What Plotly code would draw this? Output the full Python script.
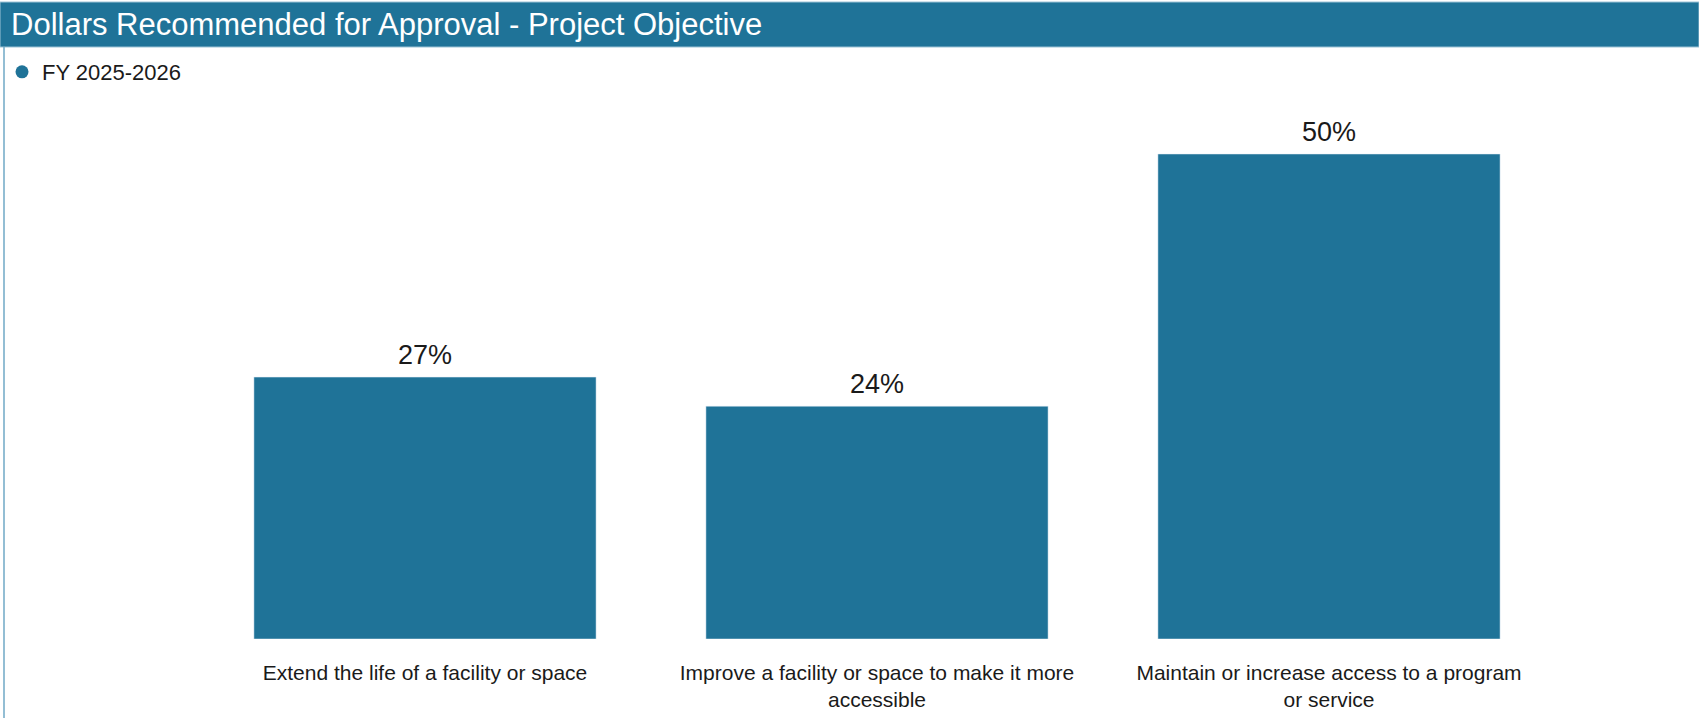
import plotly.graph_objects as go

categories = [
    "Extend the life of a facility or space",
    "Improve a facility or space to make it more<br>accessible",
    "Maintain or increase access to a program<br>or service",
]
values = [27, 24, 50]
series_name = "FY 2025-2026"
title_text = "Dollars Recommended for Approval - Project Objective"

W, H = 1699, 718
L, R, T, B = 199, 144, 100, 79
pw, ph = W - L - R, H - T - B
BLUE = "#1F7398"
TXT = "#1a1a1a"
FONT = "Liberation Sans, Arial, sans-serif"

def px(x):
    return (x - L) / pw

def py(y):
    return (H - B - y) / ph

fig = go.Figure()
fig.add_trace(go.Bar(
    x=categories, y=values, marker_color=BLUE, showlegend=False,
    cliponaxis=False, hoverinfo="skip",
))
fig.add_trace(go.Scatter(
    x=[None], y=[None], mode="markers", name=series_name,
    marker=dict(symbol="circle", size=13, color=BLUE),
))

value_labels = [
    dict(x=c, y=v, xref="x", yref="y", text=f"{v}%", showarrow=False,
         yanchor="bottom", yshift=5,
         font=dict(size=27, color=TXT, family=FONT))
    for c, v in zip(categories, values)
]

fig.update_layout(
    width=W, height=H,
    margin=dict(l=L, r=R, t=T, b=B, autoexpand=False),
    paper_bgcolor="white", plot_bgcolor="white",
    bargap=0.243,
    font=dict(family=FONT, color=TXT),
    showlegend=True,
    legend=dict(x=2 / W, y=1 - 72 / H, xref="container", yref="container",
                xanchor="left", yanchor="middle", font=dict(size=22, color=TXT),
                itemwidth=30, bgcolor="rgba(0,0,0,0)"),
    xaxis=dict(showgrid=False, showline=False, ticks="", zeroline=False,
               automargin=False,
               tickfont=dict(size=21, color=TXT), ticklabelstandoff=19),
    yaxis=dict(visible=False, range=[0, 50 * ph / 485], showgrid=False,
               automargin=False),
    shapes=[
        dict(type="rect", xref="paper", yref="paper",
             x0=px(0), x1=px(W), y0=py(47), y1=py(2),
             fillcolor=BLUE, line=dict(color="#9cc3d6", width=1), layer="below"),
        dict(type="line", xref="paper", yref="paper",
             x0=px(4), x1=px(4), y0=py(47), y1=py(H),
             line=dict(color="#6fa8c6", width=1.5)),
    ],
    annotations=[
        dict(text=title_text, xref="paper", yref="paper",
             x=px(9), y=py(25), xanchor="left", yanchor="middle",
             showarrow=False, font=dict(size=31, color="white")),
    ] + value_labels,
)

fig.write_html(
    "out.html",
    config={"displayModeBar": False},
    post_script="document.body.style.margin='0';document.body.style.overflow='hidden';",
)
